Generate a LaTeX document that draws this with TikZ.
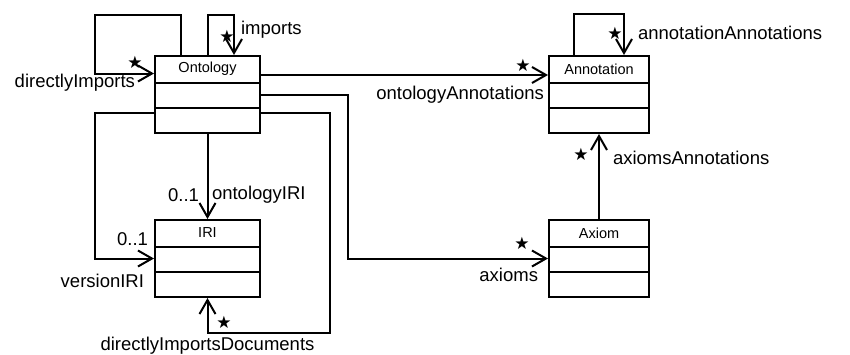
\documentclass[tikz,border=0pt]{standalone}
\usepackage{fontspec}
\setmainfont{Liberation Sans}
\newfontfamily\starfont{DejaVu Sans}
\usetikzlibrary{positioning,calc,arrows.meta}

\begin{document}
\begin{tikzpicture}[
    x=1pt, y=-1pt,
    line width=2pt,
    arrow/.style={
        -{Straight Barb[length=14pt,width=16pt,line width=2pt]},
    },
    umlclass/.style={
        rectangle,
        draw,
        minimum width=105pt,
        minimum height=77pt,
        inner sep=0pt,
    },
    classname/.style={font=\fontsize{14.5}{16}\selectfont, inner sep=0pt},
    role/.style={font=\fontsize{18.5}{21}\selectfont, inner sep=0pt},
    many/.style={font=\starfont\fontsize{17}{18}\selectfont, inner sep=0pt},
]
    \useasboundingbox (0,0) rectangle (850,354);

    % === Classes ===
    \node[umlclass] (onto) at (207.5,94.5) {};
    \node[umlclass] (iri) at (207.5,258.5) {};
    \node[umlclass, minimum width=100pt] (annot) at (599,94.5) {};
    \node[umlclass, minimum width=100pt] (axiom) at (599,258.5) {};

    \node[classname] (ontoname) at ($(onto.north)+(0,14)$) {Ontology};
    \node[classname] (iriname) at ($(iri.north)+(0,14)$) {IRI};
    \node[classname] (annotname) at ($(annot.north)+(0,14)$) {Annotation};
    \node[classname] (axiomname) at ($(axiom.north)+(0,14)$) {Axiom};

    % compartments
    \foreach \c in {onto,iri,annot,axiom} {
        \draw ($(\c.north west)+(0,27.5)$) -- ($(\c.north east)+(0,27.5)$);
        \draw ($(\c.north west)+(0,52.5)$) -- ($(\c.north east)+(0,52.5)$);
    }

    % === Associations ===
    % directlyImports (self loop)
    \draw[arrow] ($(onto.north west)+(27,0)$) |- ($(onto.north west)+(-59,-40)$) |- ($(onto.west)+(0,-21)$);
    \node[many] (s1) at ($(onto.north west)+(-19,7)$) {★};
    \node[role, anchor=east] (l1) at ($(onto.north west)+(-18,28)$) {directlyImports};

    % imports (self loop)
    \draw[arrow] ($(onto.north)+(0.5,0)$) |- ($(onto.north)+(13,-40)$) -| ($(onto.north)+(26.5,0)$);
    \node[many] (s2) at ($(onto.north)+(19.5,-19)$) {★};
    \node[role, anchor=west] (l2) at ($(onto.north)+(32.5,-25)$) {imports};

    % ontologyAnnotations
    \draw[arrow] ($(onto.east)+(0,-19.5)$) -- ($(annot.west)+(0,-19.5)$);
    \node[many] (s3) at ($(annot.north west)+(-25,10)$) {★};
    \node[role, anchor=east] (l3) at ($(annot.west)+(-3,0.5)$) {ontologyAnnotations};

    % annotationAnnotations (self loop)
    \draw[arrow] ($(annot.north)+(-25,0)$) |- ($(annot.north)+(0,-41)$) -| ($(annot.north)+(25,0)$);
    \node[many] (s4) at ($(annot.north)+(16,-22)$) {★};
    \node[role, anchor=west] (l4) at ($(annot.north)+(38,-22)$) {annotationAnnotations};

    % axiomsAnnotations
    \draw[arrow] (axiom.north) -- (annot.south);
    \node[many] (s5) at ($(annot.south)+(-18,20)$) {★};
    \node[role, anchor=west] (l5) at ($(annot.south)+(13,24)$) {axiomsAnnotations};

    % axioms
    \draw[arrow] (onto.east) -| ($(axiom.west)+(-200,0)$) -- (axiom.west);
    \node[many] (s6) at ($(axiom.west)+(-26,-15.5)$) {★};
    \node[role, anchor=east] (l6) at ($(axiom.west)+(-9,16.5)$) {axioms};

    % ontologyIRI
    \draw[arrow] (onto.south) -- (iri.north);
    \node[role, anchor=east] (m7) at ($(iri.north)+(-7.5,-24)$) {0..1};
    \node[role, anchor=west] (l7) at ($(iri.north)+(3.5,-24)$) {ontologyIRI};

    % versionIRI
    \draw[arrow] ($(onto.west)+(0,18.5)$) -| ($(iri.west)+(-59,0)$) -- (iri.west);
    \node[role, anchor=east] (m8) at ($(iri.west)+(-5,-19.5)$) {0..1};
    \node[role, anchor=east] (l8) at ($(iri.west)+(-9,22.5)$) {versionIRI};

    % directlyImportsDocuments
    \draw[arrow] ($(onto.east)+(0,18.5)$) -| ($(iri.south)+(122,35)$) -| (iri.south);
    \node[many] (s9) at ($(iri.south)+(16.5,24)$) {★};
    \node[role] (l9) at ($(iri.south)+(0,48)$) {directlyImportsDocuments};

\end{tikzpicture}
\end{document}
